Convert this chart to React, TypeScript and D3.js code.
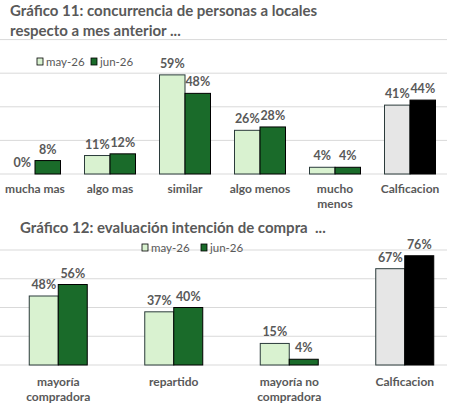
import React from "react";
import * as d3 from "d3";

// Gráfico 11: concurrencia respecto a mes anterior
const cats1 = ["mucha mas", "algo mas", "similar", "algo menos", "mucho\nmenos", "Calficacion"];
const may1 = [0, 11, 59, 26, 4, 41];
const jun1 = [8, 12, 48, 28, 4, 44];

// Gráfico 12: evaluación intención de compra
const cats2 = ["mayoría\ncompradora", "repartido", "mayoría no\ncompradora", "Calficacion"];
const may2 = [48, 37, 15, 67];
const jun2 = [56, 40, 4, 76];

const gridTicks = [0, 20, 40, 60, 80];
const seriesNames = ["may-26", "jun-26"];

const W = 449;
const H = 411;
const FONT = "Lato, 'Open Sans', sans-serif";
const TEXT = "#595959";
const GRID = "#d9d9d9";
const MAY_FILL = "#d9f2d0";
const JUN_FILL = "#1a6b2a";
const CAL_MAY = "#e6e6e6";
const CAL_JUN = "#000000";

type ChartProps = {
  cats: string[];
  may: number[];
  jun: number[];
  xRange: [number, number];
  y0: number;
  y1: number;
  barW: number;
  catY: number;
  lineH: number;
};

function BarChart({ cats, may, jun, xRange, y0, y1, barW, catY, lineH }: ChartProps) {
  const x = d3.scaleBand<string>().domain(cats).range(xRange).padding(0);
  const y = d3.scaleLinear().domain([0, 80]).range([y0, y1]);
  const last = cats.length - 1;
  return (
    <g>
      {gridTicks.map((t) => (
        <line key={t} x1={0} x2={447} y1={y(t)} y2={y(t)} stroke={GRID} strokeWidth={1} />
      ))}
      {cats.map((c, i) => {
        const cx = (x(c) as number) + x.bandwidth() / 2;
        const isCal = i === last;
        const bars = [
          { v: may[i], x0: cx - barW, fill: isCal ? CAL_MAY : MAY_FILL, stroke: "#2b3b3b" },
          { v: jun[i], x0: cx, fill: isCal ? CAL_JUN : JUN_FILL, stroke: "#000" },
        ];
        return (
          <g key={c}>
            {bars.map((b, j) => (
              <g key={j}>
                {b.v > 0 && (
                  <rect
                    x={b.x0}
                    y={y(b.v)}
                    width={barW}
                    height={y0 - y(b.v)}
                    fill={b.fill}
                    stroke={b.stroke}
                    strokeWidth={1}
                  />
                )}
                <text
                  x={b.x0 + barW / 2}
                  y={y(b.v) - 7}
                  textAnchor="middle"
                  fontFamily={FONT}
                  fontWeight="bold"
                  fontSize={12.5}
                  fill={TEXT}
                >
                  {b.v}%
                </text>
              </g>
            ))}
            {c.split("\n").map((line, k) => (
              <text
                key={k}
                x={cx}
                y={catY + k * lineH}
                textAnchor="middle"
                fontFamily={FONT}
                fontWeight="bold"
                fontSize={12}
                fill={TEXT}
              >
                {line}
              </text>
            ))}
          </g>
        );
      })}
    </g>
  );
}

function Legend({ x0, x1, y }: { x0: number; x1: number; y: number }) {
  const xs = [x0, x1];
  const fills = [MAY_FILL, JUN_FILL];
  return (
    <g>
      {seriesNames.map((s, i) => (
        <g key={s}>
          <rect x={xs[i]} y={y - 4} width={6} height={7} fill={fills[i]} stroke="#000" strokeWidth={0.8} />
          <text x={xs[i] + 9} y={y + 4} fontFamily={FONT} fontSize={11.5} fill={TEXT}>
            {s}
          </text>
        </g>
      ))}
    </g>
  );
}

export default function App() {
  const titleStyle = { whiteSpace: "pre" as const };
  return (
    <svg
      width={W}
      height={H}
      style={{ position: "absolute", left: 0, top: 0, background: "#fff" }}
    >
      <text x={10} y={16} fontFamily={FONT} fontWeight="bold" fontSize={15} fill={TEXT} style={titleStyle}>
        Gráfico 11: concurrencia de personas a locales
      </text>
      <text x={10} y={35.5} fontFamily={FONT} fontWeight="bold" fontSize={15} fill={TEXT} style={titleStyle}>
        respecto a mes anterior ...
      </text>
      <BarChart
        cats={cats1}
        may={may1}
        jun={jun1}
        xRange={[-2.5, 447.5]}
        y0={174}
        y1={39.6}
        barW={25.5}
        catY={193}
        lineH={15}
      />
      <Legend x0={37} x1={91} y={62} />

      <text x={20} y={233} fontFamily={FONT} fontWeight="bold" fontSize={15} fill={TEXT} style={titleStyle}>
        {"Gráfico 12: evaluación intención de compra  ..."}
      </text>
      <BarChart
        cats={cats2}
        may={may2}
        jun={jun2}
        xRange={[0.5, 462.5]}
        y0={365}
        y1={250}
        barW={29}
        catY={386}
        lineH={14.5}
      />
      <Legend x0={142} x1={201} y={248} />
    </svg>
  );
}
